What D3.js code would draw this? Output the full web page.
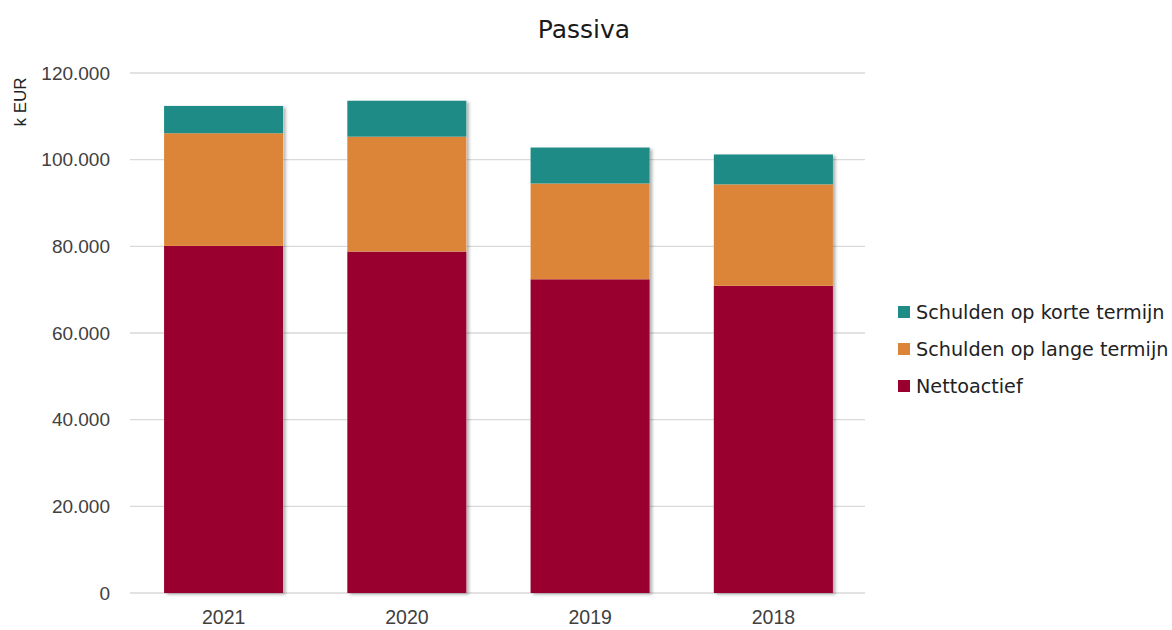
<!DOCTYPE html>
<html><head><meta charset="utf-8">
<script src="https://cdn.jsdelivr.net/npm/d3@7"></script>
<style>body{margin:0;background:#fff}</style>
</head><body>
<svg id="c" width="1172" height="630"></svg>
<script>
const years = ["2021","2020","2019","2018"];
const nettoactief = [80100, 78800, 72400, 70900];
const langeTermijn = [26000, 26500, 22100, 23400];
const korteTermijn = [6300, 8300, 8300, 6900];
const seriesNames = ["Nettoactief","Schulden op lange termijn","Schulden op korte termijn"];
const seriesColors = ["#990030","#dc8539","#1f8b86"];
const yTicks = [0,20000,40000,60000,80000,100000,120000];

const svg = d3.select("#c");
const x = d3.scaleBand().domain(years).range([132,865]).paddingInner(0.35).paddingOuter(0.175);
const y = d3.scaleLinear().domain([0,120000]).range([593,73]);

const defs = svg.append("defs");
const f = defs.append("filter").attr("id","sh").attr("x","-10%").attr("y","-10%").attr("width","130%").attr("height","130%");
f.append("feDropShadow").attr("dx",2.5).attr("dy",1.5).attr("stdDeviation",1.5).attr("flood-color","#000").attr("flood-opacity",0.3);

// gridlines
svg.append("g").selectAll("line").data(yTicks).join("line")
  .attr("x1",130).attr("x2",865).attr("y1",d=>y(d)).attr("y2",d=>y(d))
  .attr("stroke","#d9d9d9").attr("stroke-width",1.3);

const fmt = d => d===0 ? "0" : d3.format(",")(d).replace(/,/g,".");
const yAxis = d3.axisLeft(y).tickValues(yTicks).tickFormat(fmt).tickSize(0).tickPadding(0);
const ga = svg.append("g").attr("transform","translate(110,0)").call(yAxis);
ga.select(".domain").remove();
ga.selectAll("text").attr("font-family","'Liberation Sans',sans-serif").attr("font-size",19).attr("fill","#404040");

const xAxis = d3.axisBottom(x).tickSize(0).tickPadding(0);
const gx = svg.append("g").attr("transform","translate(0,610)").call(xAxis);
gx.select(".domain").remove();
gx.selectAll("text").attr("font-family","'Liberation Sans',sans-serif").attr("font-size",19.5).attr("fill","#404040");

const rows = years.map((yr,i)=>({year:yr,"Nettoactief":nettoactief[i],"Schulden op lange termijn":langeTermijn[i],"Schulden op korte termijn":korteTermijn[i]}));
const stack = d3.stack().keys(seriesNames)(rows);

const gb = svg.append("g");
gb.selectAll("rect.s").data(rows).join("rect").attr("class","s")
  .attr("x",d=>x(d.year)).attr("width",x.bandwidth())
  .attr("y",d=>y(d.Nettoactief+d["Schulden op lange termijn"]+d["Schulden op korte termijn"]))
  .attr("height",d=>y(0)-y(d.Nettoactief+d["Schulden op lange termijn"]+d["Schulden op korte termijn"]))
  .attr("fill","#fff").attr("filter","url(#sh)");
stack.forEach((s,k)=>{
  gb.append("g").attr("fill",seriesColors[k]).selectAll("rect").data(s).join("rect")
    .attr("x",d=>x(d.data.year)).attr("width",x.bandwidth())
    .attr("y",d=>y(d[1])).attr("height",d=>y(d[0])-y(d[1]));
});

// title
svg.append("text").attr("x",584).attr("y",38).attr("text-anchor","middle")
  .attr("font-family","'DejaVu Sans',sans-serif").attr("font-size",25).attr("fill","#1a1a1a").text("Passiva");

// y label
svg.append("text").attr("transform","translate(26,102) rotate(-90)").attr("text-anchor","middle")
  .attr("font-family","'Liberation Sans',sans-serif").attr("font-size",17).attr("fill","#222").text("k EUR");

// legend
const legOrder = [2,1,0];
const lg = svg.append("g");
legOrder.forEach((k,i)=>{
  const yy = 312 + i*37;
  lg.append("rect").attr("x",898).attr("y",yy-6).attr("width",12).attr("height",12).attr("fill",seriesColors[k]);
  lg.append("text").attr("x",916).attr("y",yy+7).attr("font-family","'DejaVu Sans',sans-serif")
    .attr("font-size",19.2).attr("fill","#222").text(seriesNames[k]);
});
</script>
</body></html>
